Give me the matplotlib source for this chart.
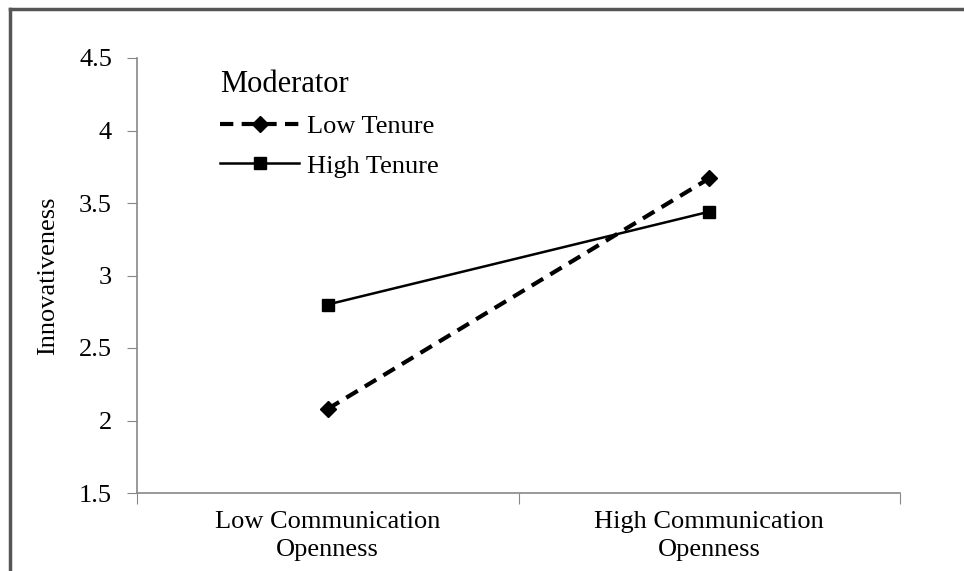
import matplotlib
matplotlib.use("Agg")
import matplotlib.pyplot as plt
from matplotlib.lines import Line2D

categories = ["Low Communication\nOpenness", "High Communication\nOpenness"]
low_tenure = [2.08, 3.67]
high_tenure = [2.80, 3.44]
yticks = [1.5, 2, 2.5, 3, 3.5, 4, 4.5]
ytick_labels = ["1.5", "2", "2.5", "3", "3.5", "4", "4.5"]

plt.rcParams['font.family'] = ['Liberation Serif', 'DejaVu Serif']

fig = plt.figure(figsize=(9.64, 5.71), dpi=100)
ax = fig.add_axes([137/964, 1 - 493/571, (900-137)/964, (493-58)/571])

x = [0.5, 1.5]
ax.plot(x, low_tenure, color='black', lw=3.0, ls=(0, (3.2, 2)), marker='D', ms=8, label='Low Tenure')
ax.plot(x, high_tenure, color='black', lw=1.8, ls='-', marker='s', ms=9, label='High Tenure')

ax.set_xlim(0, 2)
ax.set_ylim(1.5, 4.5)
ax.set_yticks(yticks)
ax.set_yticklabels(ytick_labels, fontsize=19)
ax.set_xticks([0, 1, 2])
ax.set_xticklabels([])
ax.set_xticks(x, minor=True)
ax.set_xticklabels(categories, minor=True, fontsize=19, linespacing=1.35)
ax.tick_params(axis='x', which='minor', length=0, pad=13)
ax.tick_params(axis='x', which='major', length=8, color='#888888', direction='out')
ax.tick_params(axis='y', length=7, color='#888888', direction='out', pad=11)
for s in ['top', 'right']:
    ax.spines[s].set_visible(False)
for s in ['left', 'bottom']:
    ax.spines[s].set_color('#888888')
    ax.spines[s].set_linewidth(1.2)

ax.set_ylabel('Innovativeness', fontsize=19, labelpad=14)

leg = ax.legend(title='Moderator', loc='upper left', bbox_to_anchor=(0.085, 1.015),
                frameon=False, fontsize=19, title_fontsize=22, handlelength=3.0,
                handletextpad=0.3, labelspacing=0.6, borderpad=0.2)
leg._legend_box.align = 'left'

# outer border
fig.add_artist(Line2D([10/964, 1], [1 - 9/571, 1 - 9/571], transform=fig.transFigure, color='#555555', lw=2.5))
fig.add_artist(Line2D([10/964, 10/964], [0, 1 - 9/571], transform=fig.transFigure, color='#555555', lw=2.5))

fig.savefig('out.png', dpi=100)
